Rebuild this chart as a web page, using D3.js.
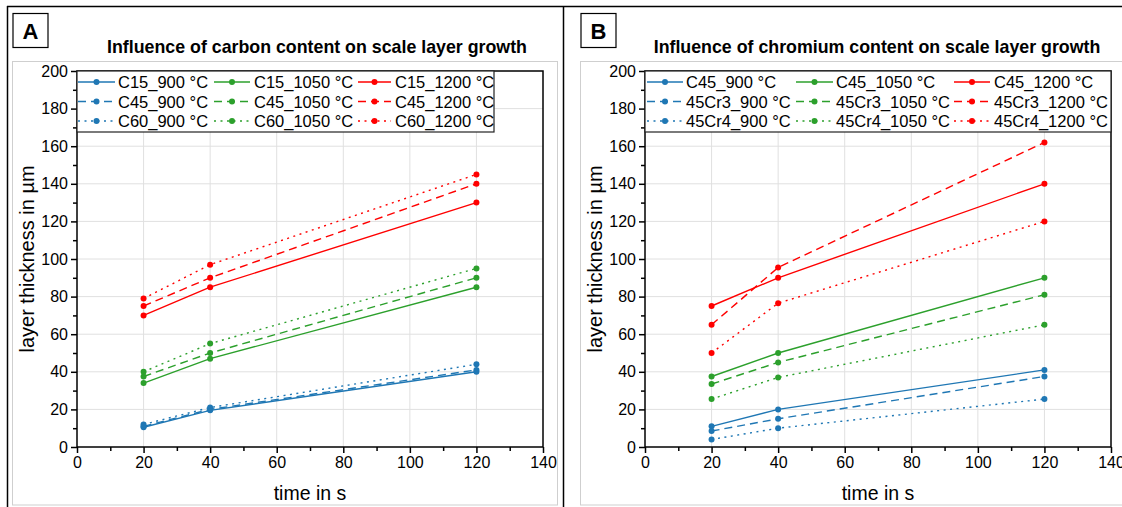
<!DOCTYPE html>
<html><head><meta charset="utf-8">
<script src="https://cdn.jsdelivr.net/npm/d3@7"></script>
<style>
html,body{margin:0;padding:0;background:#fff;}
svg{display:block;font-family:Arial,"Liberation Sans",sans-serif;}
</style></head>
<body><svg id="chart" width="1122" height="507"></svg>
<script>
// ---------------- data ----------------
const times = [20, 40, 120];
const temps = ["900 °C", "1050 °C", "1200 °C"];
const xTicks = [0, 20, 40, 60, 80, 100, 120, 140];
const yTicks = [0, 20, 40, 60, 80, 100, 120, 140, 160, 180, 200];

// Panel A: carbon content
const steelsA = ["C15", "C45", "C60"];
const A_900  = [[10.5, 19.5, 40], [11, 20, 41], [12, 21, 44]];
const A_1050 = [[34, 47, 85], [37.5, 50, 90], [40, 55, 95]];
const A_1200 = [[70, 85, 130], [75, 90, 140], [79, 97, 145]];

// Panel B: chromium content
const steelsB = ["C45", "45Cr3", "45Cr4"];
const B_900  = [[11, 20, 41], [8.5, 15, 37.5], [4, 10, 25.5]];
const B_1050 = [[37.5, 50, 90], [33.5, 45, 81], [25.5, 37, 65]];
const B_1200 = [[75, 90, 140], [65, 95.5, 162], [50, 76.5, 120]];

const colors = ["#1f77b4", "#2ca02c", "#ff0000"];
const dashes = [null, "8,5", "2,4.5"];

const svg = d3.select("#chart");

// outer black frames
svg.append("line").attr("x1", 7).attr("x2", 1122).attr("y1", 6.5).attr("y2", 6.5).attr("stroke", "#000").attr("stroke-width", 1.5);
svg.append("line").attr("x1", 7.5).attr("x2", 7.5).attr("y1", 6).attr("y2", 507).attr("stroke", "#000").attr("stroke-width", 1.5);
svg.append("line").attr("x1", 563.5).attr("x2", 563.5).attr("y1", 6).attr("y2", 507).attr("stroke", "#000").attr("stroke-width", 1.5);

function drawPanel(cfg) {
  const ox = cfg.ox;
  const g = svg.append("g");
  // gray inner frame
  g.append("rect").attr("x", ox - 64.5).attr("y", 61.5).attr("width", cfg.frameW).attr("height", 443.5)
    .attr("fill", "none").attr("stroke", "#cfcfcf").attr("stroke-width", 1);
  // letter box
  g.append("rect").attr("x", ox - 64.5 + 0.5).attr("y", 13.5).attr("width", 35).attr("height", 34)
    .attr("fill", "#fff").attr("stroke", "#000").attr("stroke-width", 1.2);
  g.append("text").attr("x", ox - 64 + 17.5).attr("y", 38.5).attr("text-anchor", "middle")
    .attr("font-size", 22).attr("font-weight", "bold").text(cfg.letter);
  // title
  g.append("text").attr("x", cfg.titleX).attr("y", 52.5).attr("text-anchor", "middle")
    .attr("font-size", 17.8).attr("font-weight", "bold").text(cfg.title);

  const x = d3.scaleLinear().domain([0, 140]).range([ox, ox + 466]);
  const y = d3.scaleLinear().domain([0, 200]).range([447, 71]);

  // grid
  g.append("g").selectAll("line").data(xTicks.filter(d => d > 0 && d < 140)).join("line")
    .attr("x1", d => x(d)).attr("x2", d => x(d)).attr("y1", y(0)).attr("y2", y(200))
    .attr("stroke", "#e0e0e0").attr("stroke-width", 1);
  g.append("g").selectAll("line").data(yTicks.filter(d => d > 0 && d < 200)).join("line")
    .attr("x1", x(0)).attr("x2", x(140)).attr("y1", d => y(d)).attr("y2", d => y(d))
    .attr("stroke", "#e0e0e0").attr("stroke-width", 1);

  // minor ticks
  const xMinor = d3.range(10, 140, 20);
  const yMinor = d3.range(10, 200, 20);
  g.append("g").attr("transform", `translate(0,${y(0)})`)
    .call(d3.axisBottom(x).tickValues(xMinor).tickSize(4).tickFormat(""))
    .call(s => s.select(".domain").remove())
    .call(s => s.selectAll("line").attr("stroke-width", 1.5));
  g.append("g").attr("transform", `translate(${x(0)},0)`)
    .call(d3.axisLeft(y).tickValues(yMinor).tickSize(4).tickFormat(""))
    .call(s => s.select(".domain").remove())
    .call(s => s.selectAll("line").attr("stroke-width", 1.5));

  // major axes
  g.append("g").attr("transform", `translate(0,${y(0)})`)
    .call(d3.axisBottom(x).tickValues(xTicks).tickSize(6).tickSizeOuter(0).tickPadding(4))
    .call(s => s.select(".domain").remove())
    .call(s => s.selectAll("line").attr("stroke-width", 1.5))
    .call(s => s.selectAll("text").attr("font-size", 16).attr("fill", "#000").attr("font-family", "Arial, Liberation Sans"));
  g.append("g").attr("transform", `translate(${x(0)},0)`)
    .call(d3.axisLeft(y).tickValues(yTicks).tickSize(6).tickSizeOuter(0).tickPadding(3))
    .call(s => s.select(".domain").remove())
    .call(s => s.selectAll("line").attr("stroke-width", 1.5))
    .call(s => s.selectAll("text").attr("font-size", 16).attr("fill", "#000").attr("font-family", "Arial, Liberation Sans"));

  // plot frame
  g.append("rect").attr("x", x(0)).attr("y", y(200)).attr("width", x(140) - x(0)).attr("height", y(0) - y(200))
    .attr("fill", "none").attr("stroke", "#000").attr("stroke-width", 1.5);

  // axis titles
  g.append("text").attr("x", (x(0) + x(140)) / 2).attr("y", 500).attr("text-anchor", "middle")
    .attr("font-size", 19.5).text("time in s");
  g.append("text").attr("transform", `translate(${ox - 43},${(y(0) + y(200)) / 2}) rotate(-90)`)
    .attr("text-anchor", "middle").attr("font-size", 20).text("layer thickness in µm");

  // series
  const groups = [cfg.v900, cfg.v1050, cfg.v1200];
  const line = d3.line().x((d, i) => x(times[i])).y(d => y(d));
  groups.forEach((grp, ti) => {
    grp.forEach((vals, si) => {
      g.append("path").datum(vals).attr("d", line).attr("fill", "none")
        .attr("stroke", colors[ti]).attr("stroke-width", 1.4)
        .attr("stroke-dasharray", dashes[si]);
      g.append("g").selectAll("circle").data(vals).join("circle")
        .attr("cx", (d, i) => x(times[i])).attr("cy", d => y(d)).attr("r", 3)
        .attr("fill", colors[ti]);
    });
  });

  // legend
  const lg = g.append("g").attr("transform", `translate(${x(0)},${y(200)})`);
  lg.append("rect").attr("x", 0).attr("y", 0).attr("width", cfg.legW).attr("height", 61)
    .attr("fill", "#fff").attr("stroke", "#222").attr("stroke-width", 1.2);
  const rowsY = [11, 30.5, 50];
  temps.forEach((t, ti) => {
    cfg.steels.forEach((s, si) => {
      const c = cfg.legCols[ti];
      const ry = rowsY[si];
      lg.append("line").attr("x1", c[0]).attr("x2", c[1]).attr("y1", ry).attr("y2", ry)
        .attr("stroke", colors[ti]).attr("stroke-width", 1.4).attr("stroke-dasharray", dashes[si]);
      lg.append("circle").attr("cx", (c[0] + c[1]) / 2).attr("cy", ry).attr("r", 3).attr("fill", colors[ti]);
      lg.append("text").attr("x", c[2]).attr("y", ry + 6).attr("font-size", 16.5).text(`${s}_${t}`);
    });
  });
}

drawPanel({
  ox: 77, frameW: 545, letter: "A", titleX: 317,
  title: "Influence of carbon content on scale layer growth",
  steels: steelsA, v900: A_900, v1050: A_1050, v1200: A_1200,
  legW: 417, legCols: [[1, 38, 41], [137, 173, 177], [281, 314, 318]]
});
drawPanel({
  ox: 645, frameW: 560, letter: "B", titleX: 877,
  title: "Influence of chromium content on scale layer growth",
  steels: steelsB, v900: B_900, v1050: B_1050, v1200: B_1200,
  legW: 466, legCols: [[2, 38, 41], [151, 188, 191], [309, 345, 349]]
});
</script></body></html>
